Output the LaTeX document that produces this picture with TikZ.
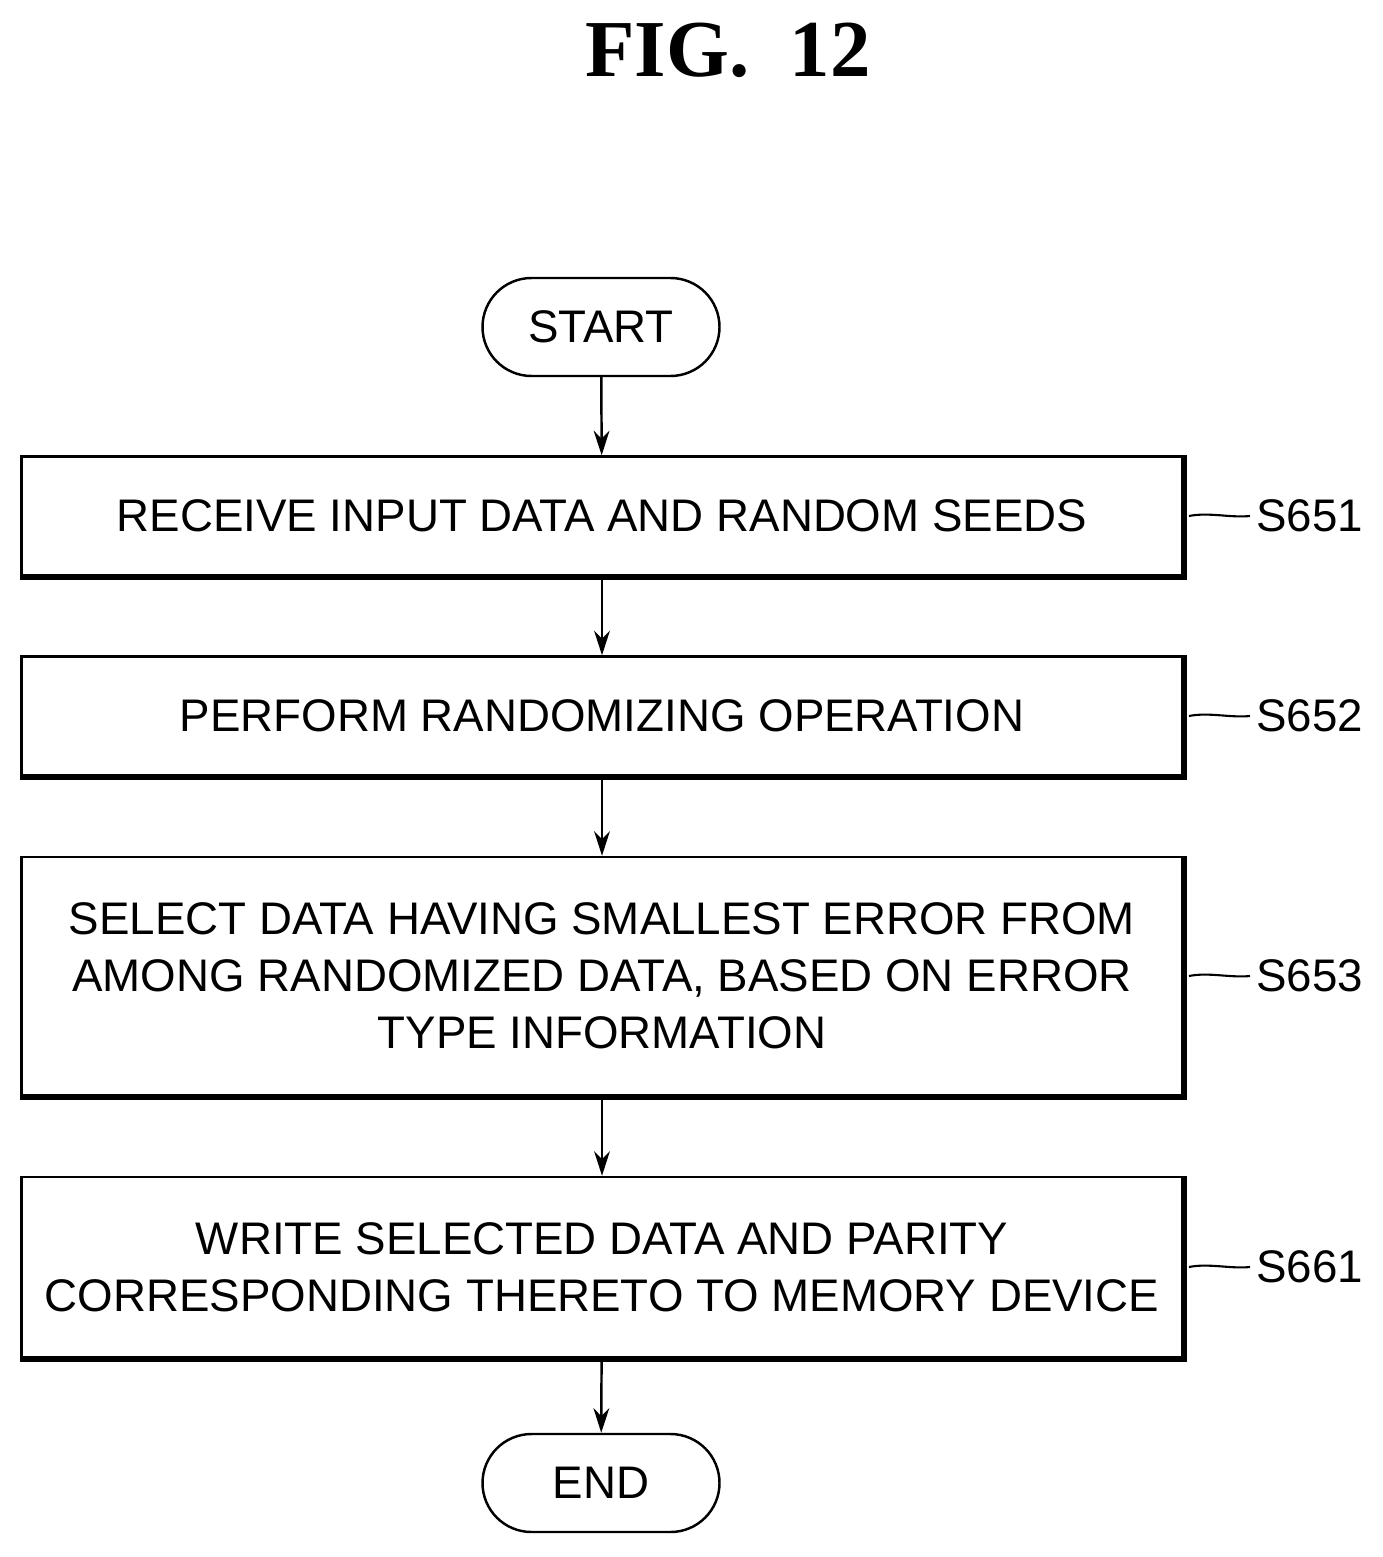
\documentclass[tikz,border=0pt]{standalone}
\usepackage{fontspec}
\setmainfont{Liberation Sans}
\newfontfamily\titlefont{Liberation Serif}
\usetikzlibrary{arrows.meta,shapes.misc}
\begin{document}
\begin{tikzpicture}[x=0.02cm,y=-0.02cm,
 box/.style={draw,line width=1.4pt,inner sep=0pt,align=center,font=\fontsize{26}{32.5}\selectfont},
 term/.style={draw,line width=1.4pt,rounded rectangle,minimum width=237*0.02cm,minimum height=98*0.02cm,inner sep=0pt,font=\fontsize{26}{32}\selectfont},
 arr/.style={line width=1.4pt,-{Stealth[length=14pt,width=9pt]}},
 lab/.style={font=\fontsize{26}{32}\selectfont,anchor=west},
 lead/.style={line width=1.2pt}]
\useasboundingbox (0,0) rectangle (1382,1557);
\node[font=\titlefont\bfseries\fontsize{46}{50}\selectfont] (title) at (728,50) {FIG.\ \ 12};
\node[term] (start) at (601,327) {START};
\node[term] (end) at (601,1483) {END};
\newcommand{\stepbox}[5]{%
 \node[box,minimum width=1161*0.02cm,minimum height=#3*0.02cm] (#1) at (602,#2) {#4};
 \draw[line width=2.2pt] ([xshift=1pt]#1.north east) -- ([xshift=1pt,yshift=-1pt]#1.south east) -- ([yshift=-1pt]#1.south west);
 \node[lab] (#1l) at (1250,#2) {#5};
 \draw[lead] ([xshift=3pt]#1.east) .. controls +(20,-4) and +(-20,2) .. (#1l.west);}
\stepbox{b1}{516}{119}{RECEIVE INPUT DATA AND RANDOM SEEDS}{S651}
\stepbox{b2}{716}{119}{PERFORM RANDOMIZING OPERATION}{S652}
\stepbox{b3}{976}{238}{SELECT DATA HAVING SMALLEST ERROR FROM\\AMONG RANDOMIZED DATA, BASED ON ERROR\\TYPE INFORMATION}{S653}
\stepbox{b4}{1267}{180}{WRITE SELECTED DATA AND PARITY\\CORRESPONDING THERETO TO MEMORY DEVICE}{S661}
\draw[arr] (start) -- (b1);
\draw[arr] (b1) -- (b2);
\draw[arr] (b2) -- (b3);
\draw[arr] (b3) -- (b4);
\draw[arr] (b4) -- (end);
\end{tikzpicture}
\end{document}
